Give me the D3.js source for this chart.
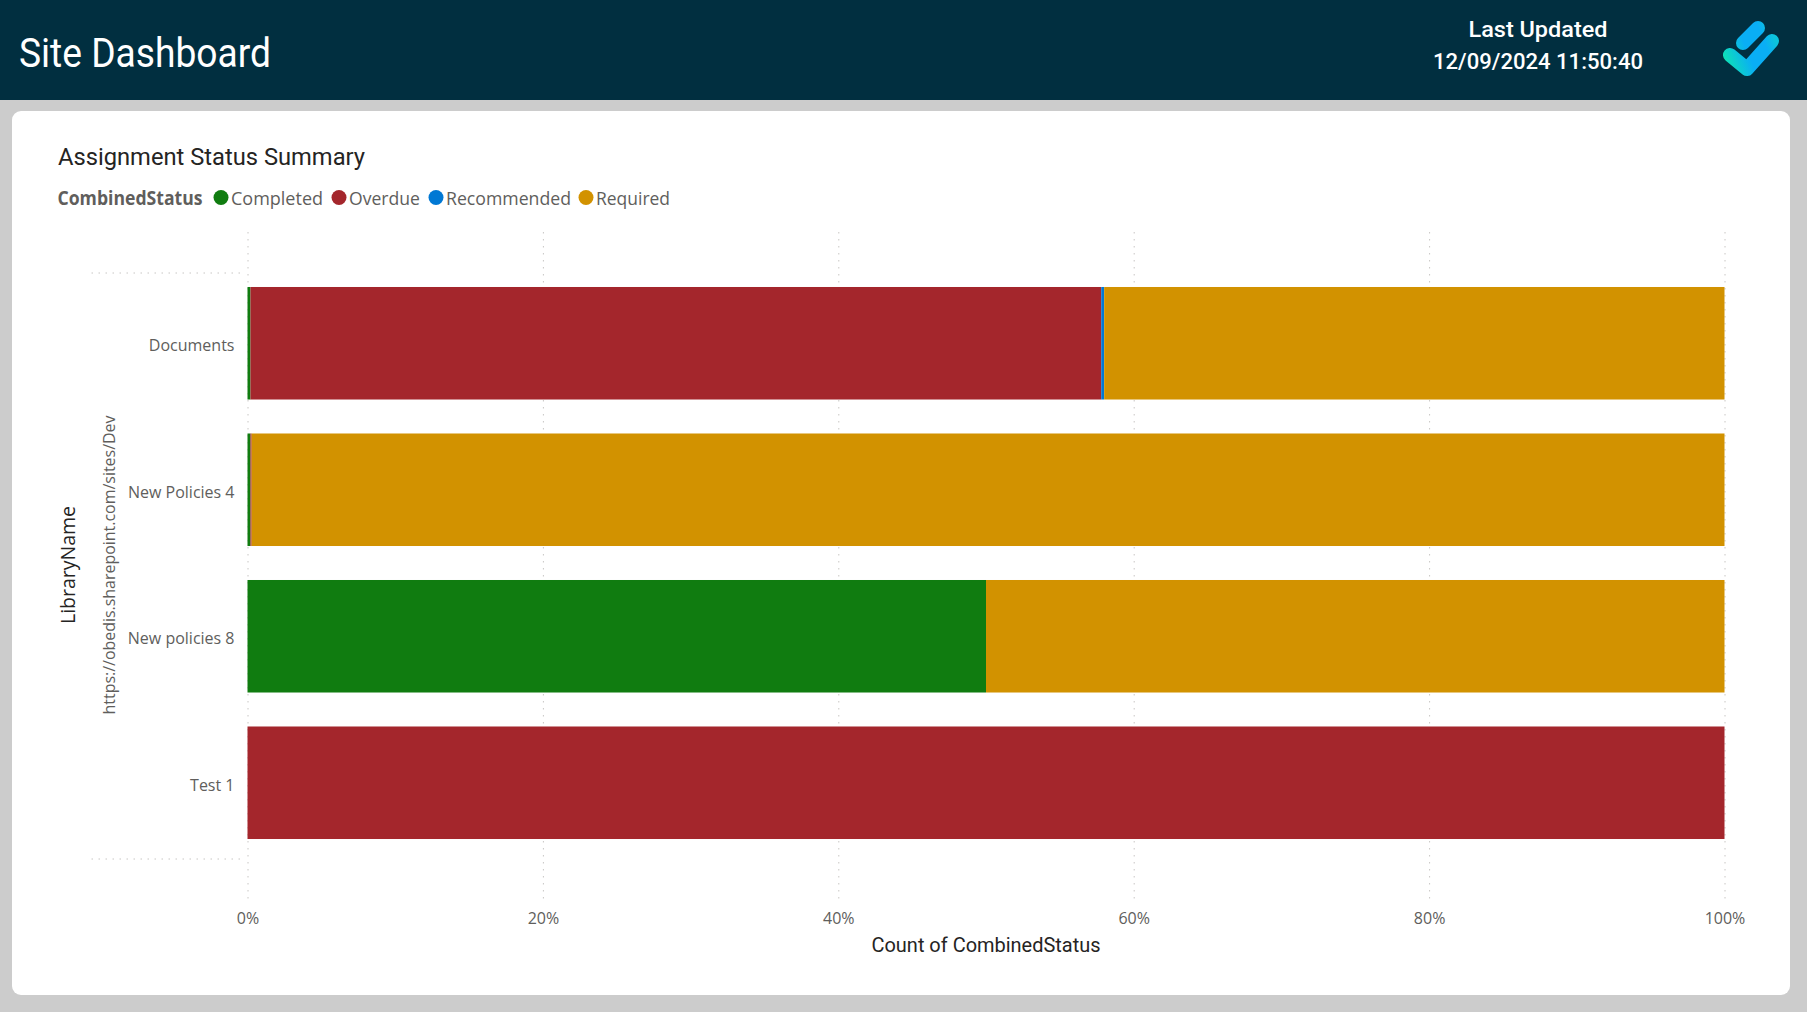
<!DOCTYPE html>
<html>
<head>
<meta charset="utf-8">
<title>Site Dashboard</title>
<script src="https://cdn.jsdelivr.net/npm/d3@7"></script>
<style>
    html, body { margin: 0; padding: 0; background: #cccccc; overflow: hidden; }
    svg { display: block; }
    .din { font-family: Roboto, sans-serif; }
    .seg { font-family: "Open Sans", sans-serif; }
</style>
</head>
<body>
<svg id="svg1" width="1807" height="1012"></svg>
<script>
// share of each library per status (percent)
var libraries = ["Documents", "New Policies 4", "New policies 8", "Test 1"];
var statuses = ["Completed", "Overdue", "Recommended", "Required"];
var completed = [0.2, 0.2, 50, 0];
var overdue = [57.6, 0.08, 0, 100];
var recommended = [0.2, 0, 0, 0];
var required = [42, 99.72, 50, 0];
var xTicks = [0, 0.2, 0.4, 0.6, 0.8, 1];
var statusColors = ["#107c10", "#a4262c", "#0078d4", "#d29200"];

var svg = d3.select("#svg1"),
    margin = { top: 273, right: 82.5, bottom: 153, left: 247.5 },
    width = +svg.attr("width") - margin.left - margin.right,
    height = +svg.attr("height") - margin.top - margin.bottom;

// page furniture
svg.append("rect").attr("width", 1807).attr("height", 1012).attr("fill", "#cccccc");
svg.append("rect").attr("width", 1807).attr("height", 100).attr("fill", "#012f40");
svg.append("rect").attr("x", 12).attr("y", 111).attr("width", 1778).attr("height", 884)
    .attr("rx", 9).attr("fill", "#ffffff");

function label(cls, x, y, size, color, text, len) {
    var t = svg.append("text").attr("class", cls).attr("x", x).attr("y", y)
        .style("font-size", size + "px").attr("fill", color).text(text);
    if (len) t.attr("textLength", len).attr("lengthAdjust", "spacingAndGlyphs");
    return t;
}

label("din", 19, 67, 40, "#ffffff", "Site Dashboard", 252);
label("din", 1538, 37, 22, "#ffffff", "Last Updated", 139).attr("text-anchor", "middle").style("font-weight", 500);
label("din", 1538, 69, 22, "#ffffff", "12/09/2024 11:50:40", 210).attr("text-anchor", "middle").style("font-weight", 500);

// logo
var defs = svg.append("defs");
var grad = defs.append("linearGradient").attr("id", "logoGrad")
    .attr("gradientUnits", "userSpaceOnUse")
    .attr("x1", 1725).attr("y1", 60).attr("x2", 1775).attr("y2", 40);
grad.append("stop").attr("offset", "0").attr("stop-color", "#0ee0b8");
grad.append("stop").attr("offset", "0.45").attr("stop-color", "#0aaef5");
grad.append("stop").attr("offset", "0.8").attr("stop-color", "#0aaef5");
grad.append("stop").attr("offset", "1").attr("stop-color", "#0cc4dc");
var logo = svg.append("g").attr("fill", "none").attr("stroke", "url(#logoGrad)")
    .attr("stroke-width", 14).attr("stroke-linecap", "round").attr("stroke-linejoin", "round");
logo.append("path").attr("d", "M1730,55 L1747,69 L1772,41");
logo.append("path").attr("d", "M1743,43 L1758,28");

label("din", 58, 164.5, 23, "#252423", "Assignment Status Summary", 307);

// legend
label("seg", 57.5, 204.5, 19, "#605e5c", "CombinedStatus", 145).style("font-weight", 700);
var legendX = [221, 339, 436, 586];
var legendLen = [92, 71, 125, 74];
statuses.forEach(function (s, i) {
    svg.append("circle").attr("cx", legendX[i]).attr("cy", 197.5).attr("r", 7.5).attr("fill", statusColors[i]);
    label("seg", legendX[i] + 10, 204.5, 19, "#605e5c", s, legendLen[i]);
});

var g = svg.append("g").attr("transform", "translate(" + margin.left + "," + margin.top + ")");

var x = d3.scaleLinear().domain([0, 1]).range([0, width]);
var y = d3.scaleBand().domain(libraries).range([0, height]).paddingInner(0.232).paddingOuter(0.116);

var table = libraries.map(function (name, i) {
    return { name: name, Completed: completed[i], Overdue: overdue[i], Recommended: recommended[i], Required: required[i] };
});
var stacked = d3.stack().keys(statuses).offset(d3.stackOffsetExpand)(table);

// x axis, its ticks run up as the dotted grid
var xAxis = g.append("g")
    .attr("transform", "translate(0," + (height + 44) + ")")
    .call(d3.axisBottom(x).tickValues(xTicks).tickFormat(d3.format(".0%")).tickSize(0).tickPadding(10));
xAxis.select(".domain").remove();
xAxis.selectAll("text").attr("class", "seg").style("font-size", "16px").attr("fill", "#605e5c");
xAxis.selectAll(".tick line")
    .attr("y1", -(height + 85)).attr("y2", 0)
    .attr("stroke", "#c8c6c4").attr("stroke-dasharray", "1.5,5.5");

// band edge lines left of the plot
g.selectAll(".edge")
    .data(d3.extent(y.range()))
    .enter().append("line")
    .attr("class", "edge")
    .attr("x1", -156).attr("x2", -4)
    .attr("y1", function (d) { return d; }).attr("y2", function (d) { return d; })
    .attr("stroke", "#c8c6c4").attr("stroke-dasharray", "1.5,5.5");

var yAxis = g.append("g")
    .call(d3.axisLeft(y).tickSize(0).tickPadding(13));
yAxis.select(".domain").remove();
yAxis.selectAll("text").attr("class", "seg").style("font-size", "16px").attr("fill", "#605e5c");

// bars sit a little above the band centre in the reference
g.append("g")
    .attr("transform", "translate(0,-3)")
    .selectAll(".series")
    .data(stacked)
    .enter().append("g")
    .attr("class", "series")
    .attr("fill", function (d, i) { return statusColors[i]; })
    .selectAll("rect")
    .data(function (d) { return d; })
    .enter().append("rect")
    .attr("x", function (d) { return x(d[0]); })
    .attr("y", function (d) { return y(d.data.name); })
    .attr("width", function (d) { return x(d[1]) - x(d[0]); })
    .attr("height", y.bandwidth());

// axis titles
label("din", 986, 952, 20, "#252423", "Count of CombinedStatus", 229).attr("text-anchor", "middle");

svg.append("text").attr("class", "seg")
    .attr("transform", "translate(75,565) rotate(-90)")
    .attr("text-anchor", "middle")
    .style("font-size", "20px").attr("fill", "#252423")
    .attr("textLength", 118).attr("lengthAdjust", "spacingAndGlyphs")
    .text("LibraryName");

svg.append("text").attr("class", "seg")
    .attr("transform", "translate(115,565) rotate(-90)")
    .attr("text-anchor", "middle")
    .style("font-size", "17px").attr("fill", "#605e5c")
    .attr("textLength", 299).attr("lengthAdjust", "spacingAndGlyphs")
    .text("https://obedis.sharepoint.com/sites/Dev");
</script>
</body>
</html>
